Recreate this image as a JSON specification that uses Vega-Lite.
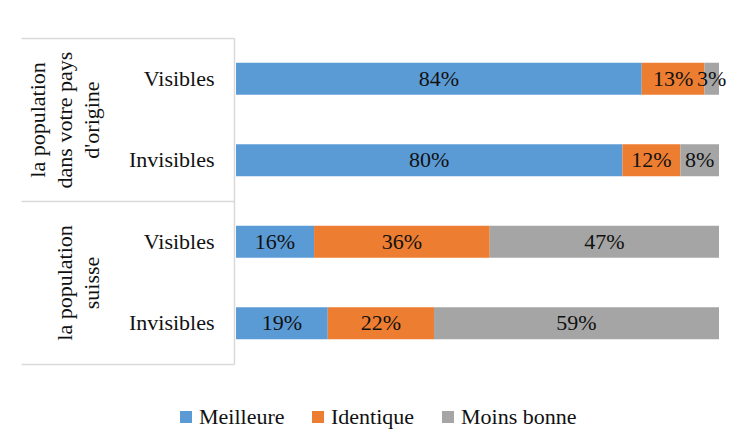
{
  "$schema": "https://vega.github.io/schema/vega-lite/v6.json",
  "width": 483,
  "height": 326,
  "padding": {"left": 20, "top": 37, "right": 21, "bottom": 10},
  "background": "white",
  "config": {
    "view": {"stroke": null},
    "font": "'Liberation Serif', 'Times New Roman', serif"
  },
  "data": {
    "values": [
      {"group": "la population|dans votre pays|d'origine", "key": "A|Visibles", "cat": "Meilleure", "rank": 1, "v": 0.84},
      {"group": "la population|dans votre pays|d'origine", "key": "A|Visibles", "cat": "Identique", "rank": 2, "v": 0.13},
      {"group": "la population|dans votre pays|d'origine", "key": "A|Visibles", "cat": "Moins bonne", "rank": 3, "v": 0.03},
      {"group": "la population|dans votre pays|d'origine", "key": "A|Invisibles", "cat": "Meilleure", "rank": 1, "v": 0.80},
      {"group": "la population|dans votre pays|d'origine", "key": "A|Invisibles", "cat": "Identique", "rank": 2, "v": 0.12},
      {"group": "la population|dans votre pays|d'origine", "key": "A|Invisibles", "cat": "Moins bonne", "rank": 3, "v": 0.08},
      {"group": "|la population|suisse", "key": "B|Visibles", "cat": "Meilleure", "rank": 1, "v": 0.16},
      {"group": "|la population|suisse", "key": "B|Visibles", "cat": "Identique", "rank": 2, "v": 0.36},
      {"group": "|la population|suisse", "key": "B|Visibles", "cat": "Moins bonne", "rank": 3, "v": 0.47},
      {"group": "|la population|suisse", "key": "B|Invisibles", "cat": "Meilleure", "rank": 1, "v": 0.19},
      {"group": "|la population|suisse", "key": "B|Invisibles", "cat": "Identique", "rank": 2, "v": 0.22},
      {"group": "|la population|suisse", "key": "B|Invisibles", "cat": "Moins bonne", "rank": 3, "v": 0.59}
    ]
  },
  "layer": [
    {
      "transform": [
        {"stack": "v", "groupby": ["key"], "sort": [{"field": "rank", "order": "ascending"}], "offset": "normalize", "as": ["x0", "x1"]},
        {"calculate": "(datum.x0 + datum.x1) / 2", "as": "mid"}
      ],
      "encoding": {
        "y": {
          "field": "key",
          "type": "nominal",
          "scale": {"domain": ["A|Visibles", "A|Invisibles", "B|Visibles", "B|Invisibles"], "paddingInner": 0.607, "paddingOuter": 0.3035},
          "axis": {
            "orient": "left",
            "title": null,
            "offset": 2,
            "ticks": false,
            "tickSize": 0,
            "domain": true,
            "domainColor": "#d9d9d9",
            "domainWidth": 1.5,
            "labelExpr": "split(datum.value, '|')[1]",
            "labelAlign": "right",
            "labelBaseline": "middle",
            "labelPadding": 20,
            "labelFontSize": 22,
            "labelFont": "'Liberation Serif', 'Times New Roman', serif",
            "labelColor": "#111111",
            "labelLimit": 0
          }
        }
      },
      "layer": [
        {
          "mark": {"type": "bar"},
          "encoding": {
            "x": {"field": "x0", "type": "quantitative", "scale": {"domain": [0, 1], "nice": false, "zero": false}, "axis": null},
            "x2": {"field": "x1"},
            "color": {
              "field": "cat",
              "type": "nominal",
              "scale": {"domain": ["Meilleure", "Identique", "Moins bonne"], "range": ["#5b9bd5", "#ed7d31", "#a5a5a5"]},
              "legend": {
                "title": null,
                "orient": "none",
                "direction": "horizontal",
                "legendX": -61,
                "legendY": 368,
                "symbolType": "square",
                "symbolSize": 144,
                "symbolStrokeWidth": 0,
                "labelFontSize": 22,
                "labelFont": "'Liberation Serif', 'Times New Roman', serif",
                "labelColor": "#111111",
                "labelOffset": 2,
                "columnPadding": 22,
                "labelLimit": 0
              }
            }
          }
        },
        {
          "mark": {"type": "text", "align": "center", "baseline": "middle", "fontSize": 22, "font": "'Liberation Serif', 'Times New Roman', serif", "color": "#111111"},
          "encoding": {
            "x": {"field": "mid", "type": "quantitative"},
            "text": {"field": "v", "type": "quantitative", "format": ".0%"}
          }
        }
      ]
    },
    {
      "mark": {"type": "bar", "opacity": 0},
      "encoding": {
        "y": {
          "field": "group",
          "type": "nominal",
          "scale": {"domain": ["la population|dans votre pays|d'origine", "|la population|suisse"], "paddingInner": 0, "paddingOuter": 0},
          "axis": {
            "orient": "left",
            "title": null,
            "offset": 2,
            "domain": false,
            "ticks": true,
            "tickBand": "extent",
            "tickSize": 213,
            "tickColor": "#d9d9d9",
            "tickWidth": 1.5,
            "labelExpr": "isValid(datum.value) ? split(datum.value, '|') : ''",
            "labelAngle": -90,
            "labelAlign": "center",
            "labelBaseline": "bottom",
            "labelPadding": -28,
            "labelFontSize": 22,
            "labelLineHeight": 27,
            "labelFont": "'Liberation Serif', 'Times New Roman', serif",
            "labelColor": "#111111",
            "labelLimit": 0
          }
        }
      }
    }
  ],
  "resolve": {"scale": {"y": "independent"}}
}
